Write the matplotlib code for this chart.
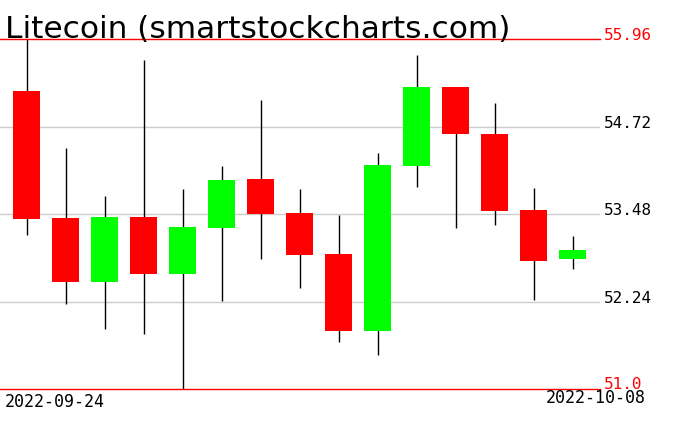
import matplotlib
matplotlib.use('Agg')
import matplotlib.pyplot as plt
import matplotlib.transforms as mtransforms

# daily OHLC, 2022-09-24 .. 2022-10-08
dates = ['2022-09-24', '2022-09-25', '2022-09-26', '2022-09-27', '2022-09-28',
         '2022-09-29', '2022-09-30', '2022-10-01', '2022-10-02', '2022-10-03',
         '2022-10-04', '2022-10-05', '2022-10-06', '2022-10-07', '2022-10-08']
opens = [55.23, 53.43, 52.52, 53.44, 52.64, 53.29, 53.98, 53.50, 52.92, 51.82,
         54.16, 55.28, 54.62, 53.54, 52.84]
highs = [55.96, 54.42, 53.74, 55.67, 53.84, 54.16, 55.10, 53.84, 53.47, 54.35,
         55.74, 55.29, 55.06, 53.85, 53.17]
lows = [53.18, 52.21, 51.86, 51.79, 51.00, 52.25, 52.85, 52.44, 51.67, 51.49,
        53.87, 53.29, 53.33, 52.27, 52.71]
closes = [53.42, 52.52, 53.44, 52.64, 53.30, 53.97, 53.49, 52.91, 51.82, 54.18,
          55.28, 54.62, 53.53, 52.82, 52.98]

y_min, y_max = 51.0, 55.96
grid_levels = [52.24, 53.48, 54.72]

fig = plt.figure(figsize=(6.76, 4.31), dpi=100)
ax = fig.add_axes([0, 40.7 / 431, 600 / 676, 350 / 431])
ax.set_xlim(-0.685, 14.7)
ax.set_ylim(y_min, y_max)
ax.axis('off')

for g in grid_levels:
    ax.axhline(g, color='#cccccc', lw=1, zorder=1)
ax.axhline(y_max, color='#ff0000', lw=1, zorder=4, clip_on=False)
ax.axhline(y_min, color='#ff0000', lw=1, zorder=4, clip_on=False)

w = 0.69
for i in range(len(dates)):
    o, h, l, c = opens[i], highs[i], lows[i], closes[i]
    col = '#00ff00' if c > o else '#ff0000'
    ax.vlines(i, l, h, color='black', lw=1, zorder=2, clip_on=False)
    ax.bar(i, abs(c - o), bottom=min(o, c), width=w, color=col,
           edgecolor='none', zorder=3)

trans = mtransforms.blended_transform_factory(ax.transAxes, ax.transData)
lab_x = 1.0 + 4 / 600
for g in grid_levels:
    ax.text(lab_x, g, '%.2f' % g, transform=trans, ha='left', va='baseline',
            fontsize=11.5, family='DejaVu Sans Mono', color='black')
ax.text(lab_x, y_max, '55.96', transform=trans, ha='left', va='baseline',
        fontsize=11.5, family='DejaVu Sans Mono', color='#ff0000')
ax.text(lab_x, y_min + 0.02, '51.0', transform=trans, ha='left', va='baseline',
        fontsize=11.5, family='DejaVu Sans Mono', color='#ff0000')

fig.text(5 / 676, (431 - 407) / 431, dates[0], ha='left', va='baseline',
         fontsize=12, family='DejaVu Sans Mono', color='black')
fig.text(646 / 676, (431 - 403) / 431, dates[-1], ha='right', va='baseline',
         fontsize=12, family='DejaVu Sans Mono', color='black')

fig.text(5 / 676, (431 - 38) / 431, 'Litecoin (smartstockcharts.com)',
         ha='left', va='baseline', fontsize=22.5, color='black')

fig.savefig('out.png', dpi=100, facecolor='white')
